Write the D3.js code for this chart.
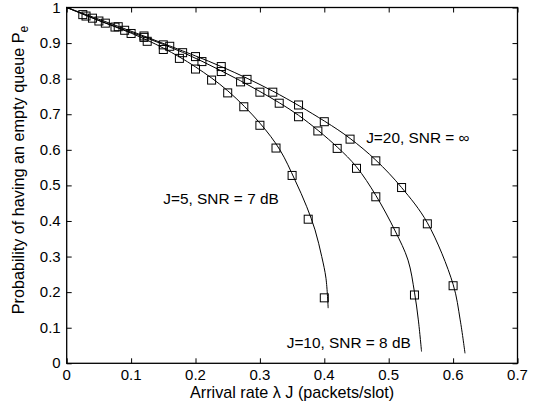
<!DOCTYPE html>
<html><head><meta charset="utf-8">
<script src="https://cdn.jsdelivr.net/npm/d3@7"></script>
<style>body{margin:0;background:#fff}svg{display:block}text{font-family:Arial,"Liberation Sans",sans-serif;fill:#000}</style>
</head><body><svg id="c" width="536" height="409"></svg>
<script>
const xTicks=[0,0.1,0.2,0.3,0.4,0.5,0.6,0.7];
const yTicks=[0,0.1,0.2,0.3,0.4,0.5,0.6,0.7,0.8,0.9,1];
// markers (simulation)
const j5X=[0.025,0.05,0.075,0.1,0.125,0.15,0.175,0.2,0.225,0.25,0.275,0.3,0.325,0.35,0.375,0.4];
const j5Y=[0.980,0.962,0.945,0.927,0.905,0.882,0.857,0.827,0.796,0.760,0.721,0.669,0.605,0.528,0.405,0.184];
const j10X=[0.03,0.06,0.09,0.12,0.15,0.18,0.21,0.24,0.27,0.30,0.33,0.36,0.39,0.42,0.45,0.48,0.51,0.54];
const j10Y=[0.976,0.956,0.936,0.916,0.895,0.873,0.848,0.820,0.791,0.762,0.731,0.693,0.653,0.604,0.548,0.468,0.370,0.192];
const j20X=[0.04,0.08,0.12,0.16,0.20,0.24,0.28,0.32,0.36,0.40,0.44,0.48,0.52,0.56,0.60];
const j20Y=[0.970,0.946,0.920,0.891,0.862,0.834,0.798,0.762,0.726,0.679,0.630,0.569,0.494,0.392,0.218];
// analytical curves
const j5LX=[0,0.05,0.1,0.15,0.2,0.25,0.3,0.331,0.3545,0.3727,0.3856,0.396,0.4026,0.406];
const j5LY=[1,0.963,0.928,0.886,0.833,0.766,0.675,0.6,0.515,0.44,0.375,0.30,0.239,0.155];
const j10LX=[0,0.06,0.12,0.18,0.24,0.30,0.36,0.42,0.45,0.48,0.51,0.53,0.54,0.546,0.551];
const j10LY=[1,0.957,0.917,0.874,0.822,0.764,0.697,0.608,0.552,0.472,0.372,0.29,0.2,0.122,0.033];
const j20LX=[0,0.08,0.16,0.24,0.32,0.40,0.44,0.48,0.52,0.56,0.6,0.611,0.6185];
const j20LY=[1,0.947,0.892,0.834,0.765,0.681,0.632,0.571,0.494,0.395,0.222,0.122,0.028];
const labels=[
 {t:"J=20, SNR = \u221e",x:0.465,y:0.62},
 {t:"J=5, SNR = 7 dB",x:0.15,y:0.448},
 {t:"J=10, SNR = 8 dB",x:0.3416,y:0.043}
];

const L=66.7,R=517.5,T=7.5,B=363.3;
const svg=d3.select("#c");
const x=d3.scaleLinear().domain([0,0.7]).range([L,R]);
const y=d3.scaleLinear().domain([0,1]).range([B,T]);
const fs=15, fa=15.4, ft=16.2;
const g=svg.append("g");
const ax=(axis,tr)=>{const a=g.append("g").attr("transform",tr).call(axis);a.select(".domain").remove();a.selectAll("line").attr("stroke","#000");a.selectAll("text").remove();};
ax(d3.axisBottom(x).tickValues(xTicks).tickSize(-5),`translate(0,${B})`);
ax(d3.axisTop(x).tickValues(xTicks).tickSize(-5),`translate(0,${T})`);
ax(d3.axisLeft(y).tickValues(yTicks).tickSize(-5),`translate(${L},0)`);
ax(d3.axisRight(y).tickValues(yTicks).tickSize(-5),`translate(${R},0)`);
g.selectAll(".xl").data(xTicks).enter().append("text").attr("x",d=>x(d)).attr("y",B+17).attr("text-anchor","middle").attr("font-size",fs).text(d=>d);
g.selectAll(".yl").data(yTicks).enter().append("text").attr("x",L-6).attr("y",d=>y(d)+5).attr("text-anchor","end").attr("font-size",fs).text(d=>d);
svg.append("rect").attr("x",L).attr("y",T).attr("width",R-L).attr("height",B-T).attr("fill","none").attr("stroke","#000").attr("stroke-width",1.3);

const line=d3.line().x(d=>x(d[0])).y(d=>y(d[1])).curve(d3.curveCatmullRom);
[[j5LX,j5LY],[j10LX,j10LY],[j20LX,j20LY]].forEach(([xs,ys])=>{
  svg.append("path").datum(xs.map((v,i)=>[v,ys[i]])).attr("d",line).attr("fill","none").attr("stroke","#000").attr("stroke-width",1);
});
const s=8;
[[j5X,j5Y],[j10X,j10Y],[j20X,j20Y]].forEach(([xs,ys])=>{
  svg.append("g").selectAll("rect").data(xs.map((v,i)=>[v,ys[i]])).enter().append("rect")
   .attr("x",d=>x(d[0])-s/2).attr("y",d=>y(d[1])-s/2).attr("width",s).attr("height",s)
   .attr("fill","none").attr("stroke","#000").attr("stroke-width",1);
});
svg.selectAll(".lab").data(labels).enter().append("text").attr("x",d=>x(d.x)).attr("y",d=>y(d.y)).attr("font-size",fa).text(d=>d.t);
svg.append("text").attr("x",(L+R)/2).attr("y",398).attr("text-anchor","middle").attr("font-size",ft).text("Arrival rate \u03bb J (packets/slot)");
const yl=svg.append("text").attr("transform","translate(24,170) rotate(-90)").attr("text-anchor","middle").attr("font-size",ft);
yl.append("tspan").text("Probability of having an empty queue P");
yl.append("tspan").attr("font-size",ft*0.75).attr("dy",4).text("e");
</script></body></html>
